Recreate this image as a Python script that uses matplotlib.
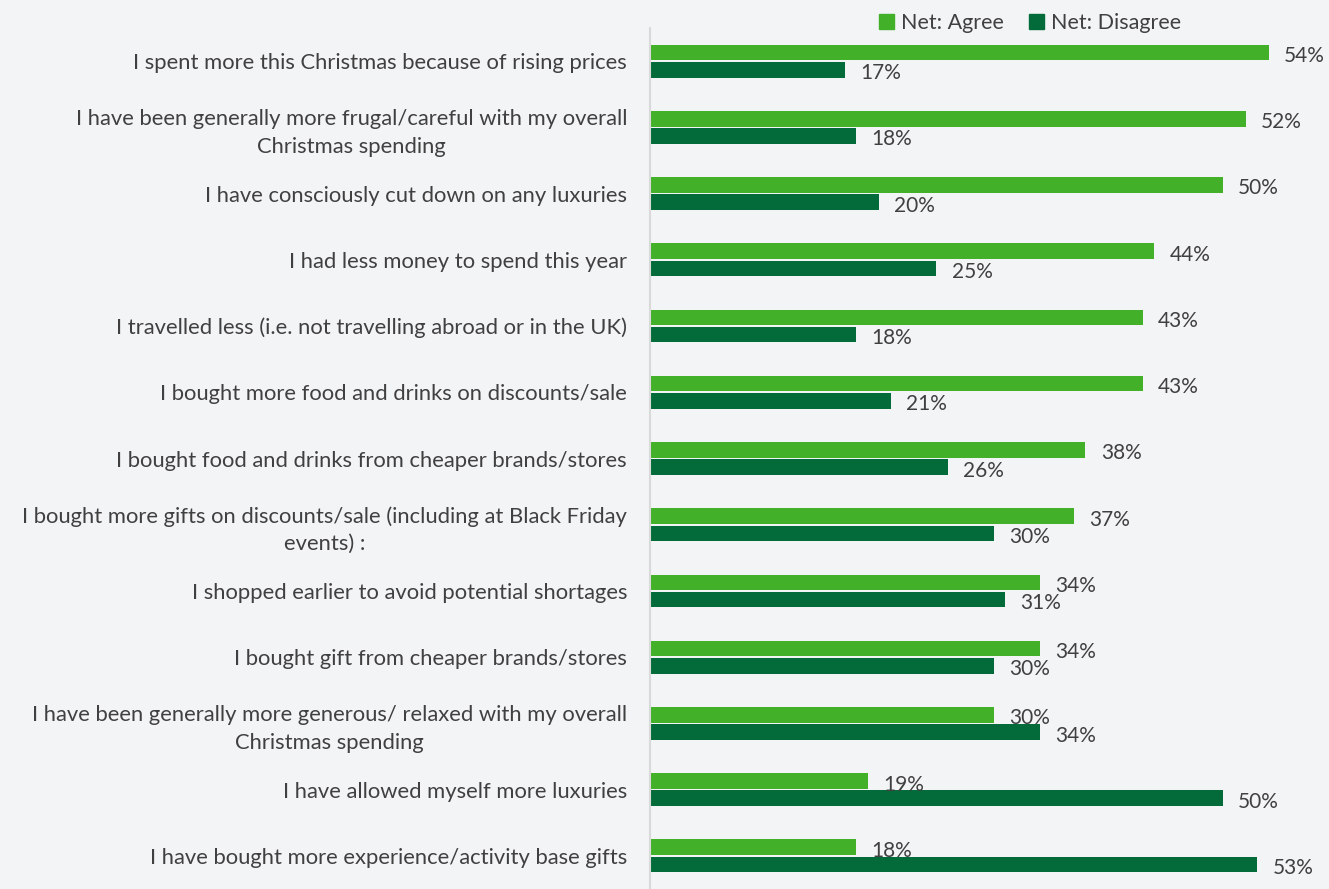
import numpy as np
import matplotlib
matplotlib.use("Agg")
import matplotlib.pyplot as plt
from matplotlib.patches import Patch

# statements, top to bottom
labels = [
    "I spent more this Christmas because of rising prices",
    "I have been generally more frugal/careful with my overall\nChristmas spending",
    "I have consciously cut down on any luxuries",
    "I had less money to spend this year",
    "I travelled less (i.e. not travelling abroad or in the UK)",
    "I bought more food and drinks on discounts/sale",
    "I bought food and drinks from cheaper brands/stores",
    "I bought more gifts on discounts/sale (including at Black Friday\nevents) :",
    "I shopped earlier to avoid potential shortages",
    "I bought gift from cheaper brands/stores",
    "I have been generally more generous/ relaxed with my overall\nChristmas spending",
    "I have allowed myself more luxuries",
    "I have bought more experience/activity base gifts",
]
agree = [54, 52, 50, 44, 43, 43, 38, 37, 34, 34, 30, 19, 18]
disagree = [17, 18, 20, 25, 18, 21, 26, 30, 31, 30, 34, 50, 53]

green_light = "#43b02a"
green_dark = "#036b3a"
text_col = "#404040"
bg = "#f3f4f6"

plt.rcParams["font.family"] = ["Lato", "DejaVu Sans"]

fig = plt.figure(figsize=(13.29, 8.89), dpi=100, facecolor=bg)
ax = fig.add_axes([650 / 1329, 0, 1 - 650 / 1329, 1 - 28 / 889])
ax.set_facecolor(bg)

y = np.arange(len(labels))
h = 0.235
off = 0.13
b1 = ax.barh(y - off, agree, height=h, color=green_light)
b2 = ax.barh(y + off, disagree, height=h, color=green_dark)

for bars, vals in ((b1, agree), (b2, disagree)):
    for bar, v in zip(bars, vals):
        ax.annotate(f"{v}%", (bar.get_width(), bar.get_y() + bar.get_height() / 2),
                    xytext=(11, -2.5), textcoords="offset points",
                    ha="left", va="center", fontsize=15, color=text_col)

ax.set_xlim(0, 59.25)
ax.set_ylim(len(labels) - 0.5, -0.5)
ax.set_xticks([])
ax.set_yticks(y)
ax.set_yticklabels(labels, fontsize=15.8, color=text_col,
                   multialignment="center", linespacing=1.45)
ax.tick_params(axis="y", length=0, pad=16.5)
for s in ("top", "right", "bottom"):
    ax.spines[s].set_visible(False)
ax.spines["left"].set_color("#d9d9d9")
ax.spines["left"].set_linewidth(1.5)

handles = [Patch(color=green_light, label="Net: Agree"),
           Patch(color=green_dark, label="Net: Disagree")]
fig.legend(handles=handles, loc="center", bbox_to_anchor=(0.775, 1 - 23 / 889),
           ncol=2, frameon=False, fontsize=15.5, handlelength=0.7, handleheight=0.7,
           handletextpad=0.3, columnspacing=1.2, labelcolor=text_col)

fig.savefig("out.png", dpi=100, facecolor=bg)
